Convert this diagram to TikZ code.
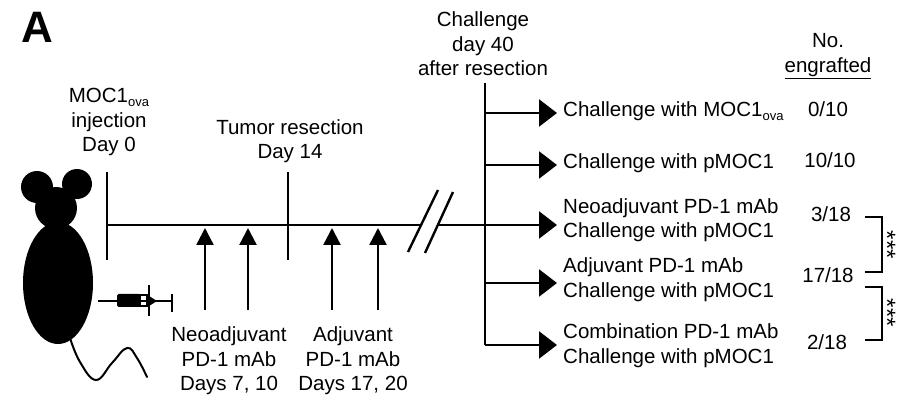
\documentclass[tikz,border=0pt]{standalone}
\usepackage{fontspec}
\setmainfont{Liberation Sans}
\usetikzlibrary{arrows.meta}
\begin{document}
\begin{tikzpicture}[x=1pt,y=-1pt,
  lbl/.style={font=\fontsize{20.5}{24.5}\selectfont, align=center, inner sep=0pt},
  lblL/.style={lbl, align=left, anchor=west},
  tl/.style={line width=2.4pt},
  thin/.style={line width=2pt},
  uparrow/.style={line width=2.4pt, -{Triangle[length=17pt,width=17pt]}},
  brarrow/.style={line width=2.4pt, -{Triangle[length=18pt,width=27pt]}},
  star/.style={font=\fontsize{24}{24}\selectfont, inner sep=0pt, rotate=-90},
]
\newcommand{\ova}{\raisebox{-4pt}{\fontsize{13}{13}\selectfont ova}}
\useasboundingbox (0,0) rectangle (914,398);
\fill[white] (0,0) rectangle (914,398);

% panel letter
\node[font=\fontsize{44}{44}\selectfont\bfseries, inner sep=0pt] (panel) at (37,27) {A};

% mouse silhouette
\fill (37,187) circle (16);
\fill (77,184) circle (15);
\fill (56,208) circle (21);
\fill (58,283) ellipse (35 and 61);
\draw[line width=2pt, line cap=round] plot[smooth, tension=0.7] coordinates
  {(70,338) (80,362) (96,380) (112,363) (127,348) (137,358) (147,377)};

% syringe
\draw[line width=1.6pt] (98,301) -- (118,301);
\fill[rounded corners=1.5pt] (117,294) rectangle (140,307);
\fill (139,294) rectangle (148,307);
\fill[white] (140.5,296) rectangle (146,299.8);
\fill[white] (140.5,301.6) rectangle (146,305.2);
\draw[thin] (149,285) -- (149,316);
\fill (149,296) -- (157,301) -- (149,306) -- cycle;
\draw[thin] (149,301) -- (172,301);
\draw[line width=2.5pt] (172,294) -- (172,312);

% timeline points
\coordinate (d0) at (107,225);
\coordinate (d0t) at (107,172);
\coordinate (d0b) at (107,260);
\coordinate (rs) at (288,225);
\coordinate (rst) at (288,172);
\coordinate (rsb) at (288,260);
\coordinate (brA) at (421,225);
\coordinate (brB) at (438,225);
\coordinate (jn) at (485,225);

\draw[tl] (d0t) -- (d0b);
\draw[tl] (rst) -- (rsb);
\draw[tl] (d0) -- (brA);
\draw[tl] (brB) -- (jn);
\draw[tl] (408,252) -- (438,190);
\draw[tl] (425,253) -- (453,192);

% antibody doses
\foreach \x [count=\i] in {205,248,332,378}{
  \coordinate (dose\i) at (\x,228);
  \coordinate (doseb\i) at (\x,310);
  \draw[uparrow] (doseb\i) -- (dose\i);
}

% challenge branches
\coordinate (vt) at (485,83);
\coordinate (vb) at (485,345);
\draw[tl] (vt) -- (vb);
\foreach \y [count=\i] in {113,165,225,283,345}{
  \coordinate (bs\i) at (485,\y);
  \coordinate (be\i) at (557,\y);
  \draw[brarrow] (bs\i) -- (be\i);
}

% timeline labels
\node[lbl] (inj) at (109,122) {MOC1\ova\\injection\\Day 0};
\node[lbl] (res) at (290,141) {Tumor resection\\Day 14};
\node[lbl] (chl) at (483,44) {Challenge\\day 40\\after resection};
\node[lbl] (neo) at (229,361) {Neoadjuvant\\PD-1 mAb\\Days 7, 10};
\node[lbl] (adj) at (353,361) {Adjuvant\\PD-1 mAb\\Days 17, 20};

% group labels
\node[lblL] (g1) at (563,111) {Challenge with MOC1\ova};
\node[lblL] (g2) at (563,163) {Challenge with pMOC1};
\node[lblL] (g3) at (563,220) {Neoadjuvant PD-1 mAb\\Challenge with pMOC1};
\node[lblL] (g4) at (563,279.5) {Adjuvant PD-1 mAb\\Challenge with pMOC1};
\node[lblL] (g5) at (563,345.5) {Combination PD-1 mAb\\Challenge with pMOC1};

% engraftment counts
\node[lbl] (hd) at (828,56) {No.\\\underline{engrafted}};
\node[lbl] (n1) at (828,109) {0/10};
\node[lbl] (n2) at (830,160) {10/10};
\node[lbl] (n3) at (831,214) {3/18};
\node[lbl] (n4) at (828,275) {17/18};
\node[lbl] (n5) at (827,342) {2/18};

% significance brackets
\coordinate (k1a) at (865,217);
\coordinate (k1b) at (865,272);
\coordinate (k2a) at (865,287);
\coordinate (k2b) at (865,340);
\draw[thin] (k1a) -- ++(17,0) |- (k1b);
\draw[thin] (k2a) -- ++(17,0) |- (k2b);
\node[star] (s1) at (887,245) {***};
\node[star] (s2) at (887,313) {***};
\end{tikzpicture}
\end{document}
